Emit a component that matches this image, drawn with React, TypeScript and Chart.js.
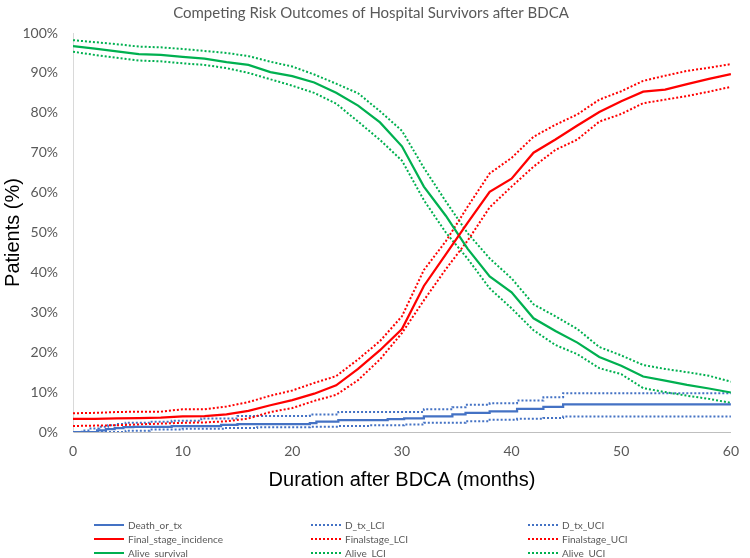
import React, { useEffect, useRef } from 'react';
import { Chart, registerables } from 'chart.js';

Chart.register(...registerables);

const titleText = 'Competing Risk Outcomes of Hospital Survivors after BDCA';
const xTitle = 'Duration after BDCA (months)';
const yTitle = 'Patients (%)';

// Smooth-looking cumulative curves, sampled every 2 months
const months = [0, 2, 4, 6, 8, 10, 12, 14, 16, 18, 20, 22, 24, 26, 28, 30, 32, 34, 36, 38, 40, 42, 44, 46, 48, 50, 52, 54, 56, 58, 60];

const finalStage = [3.3, 3.3, 3.4, 3.5, 3.6, 3.9, 4.0, 4.4, 5.3, 6.7, 8.0, 9.6, 11.7, 15.8, 20.5, 25.8, 36.6, 44.5, 52.5, 60.2, 63.5, 70.0, 73.3, 76.8, 80.2, 82.9, 85.3, 85.8, 87.2, 88.5, 89.7];
const finalLCI = [1.5, 1.6, 1.7, 1.9, 2.1, 2.3, 2.4, 2.7, 3.4, 5.0, 6.0, 7.8, 9.3, 13.0, 18.2, 24.8, 33.0, 40.8, 48.0, 56.3, 61.5, 66.5, 70.7, 73.3, 77.8, 79.7, 82.4, 83.3, 84.2, 85.3, 86.5];
const finalUCI = [4.7, 4.8, 5.0, 5.1, 5.1, 5.7, 5.7, 6.4, 7.5, 9.1, 10.4, 12.3, 14.0, 18.2, 22.8, 29.0, 40.6, 47.8, 56.5, 64.8, 68.7, 74.0, 77.0, 79.6, 83.3, 85.4, 88.0, 89.3, 90.5, 91.3, 92.2];

const alive = [96.7, 96.1, 95.4, 94.7, 94.5, 94.0, 93.6, 92.7, 92.0, 90.2, 89.2, 87.6, 85.0, 81.8, 77.6, 71.6, 61.5, 54.2, 45.9, 39.0, 35.0, 28.5, 25.3, 22.4, 18.8, 16.6, 13.9, 12.9, 11.8, 10.9, 9.9];
const aliveLCI = [95.3, 94.5, 93.8, 93.1, 92.9, 92.4, 92.0, 91.2, 90.0, 88.4, 86.8, 85.0, 82.3, 77.8, 73.2, 68.0, 58.1, 50.0, 43.4, 36.0, 31.0, 25.5, 21.8, 19.5, 16.0, 14.5, 11.0, 10.0, 9.1, 8.3, 7.3];
const aliveUCI = [98.2, 97.7, 97.2, 96.6, 96.4, 96.0, 95.5, 95.0, 94.2, 92.8, 91.6, 89.6, 87.3, 84.9, 80.4, 75.5, 66.2, 57.8, 49.8, 43.5, 38.5, 32.0, 29.0, 25.8, 21.3, 19.2, 16.8, 15.8, 15.0, 14.1, 12.6];

// Step curves for death / transplant (time of each step, value after it)
const deathTimes = [0, 1.5, 2.2, 3.0, 3.8, 4.6, 5.5, 9, 13.5, 15, 21.6, 22.2, 24.2, 28.7, 30.2, 32, 34.6, 35.8, 38, 40.5, 42.9, 44.7, 60];
const deathOrTx = [0, 0, 0.4, 0.7, 1.0, 1.2, 1.3, 1.5, 1.8, 2.0, 2.2, 2.6, 3.0, 3.2, 3.4, 3.9, 4.4, 4.8, 5.2, 5.8, 6.3, 6.9, 6.9];

const dTxUCITimes = [0, 0.8, 1.6, 2.4, 3.2, 4.0, 4.8, 7, 9, 11.7, 15, 21.6, 24.2, 32, 34.6, 35.8, 38, 40.5, 42.9, 44.7, 60];
const dTxUCI = [0, 0.4, 0.9, 1.3, 1.7, 2.0, 2.3, 2.6, 2.8, 3.4, 4.0, 4.4, 5.0, 5.7, 6.2, 6.8, 7.2, 7.9, 8.7, 9.7, 9.7];

const dTxLCITimes = [0, 3, 4.8, 7, 10, 13.8, 16.8, 21.6, 24.2, 27, 30.2, 32, 35.8, 38, 40.5, 42.9, 44.7, 60];
const dTxLCI = [0, 0, 0.3, 0.6, 0.8, 1.0, 1.2, 1.3, 1.5, 1.7, 1.9, 2.3, 2.7, 3.1, 3.3, 3.5, 3.9, 3.9];

const xTicks = [0, 10, 20, 30, 40, 50, 60];

const BLUE = '#4472C4';
const RED = '#FF0000';
const GREEN = '#00B050';

type Series = { label: string; times: number[]; values: number[]; color: string; dotted: boolean; stepped: boolean };

const seriesList: Series[] = [
  { label: 'Death_or_tx', times: deathTimes, values: deathOrTx, color: BLUE, dotted: false, stepped: true },
  { label: 'Final_stage_incidence', times: months, values: finalStage, color: RED, dotted: false, stepped: false },
  { label: 'Alive_survival', times: months, values: alive, color: GREEN, dotted: false, stepped: false },
  { label: 'D_tx_LCI', times: dTxLCITimes, values: dTxLCI, color: BLUE, dotted: true, stepped: true },
  { label: 'Finalstage_LCI', times: months, values: finalLCI, color: RED, dotted: true, stepped: false },
  { label: 'Alive_LCI', times: months, values: aliveLCI, color: GREEN, dotted: true, stepped: false },
  { label: 'D_tx_UCI', times: dTxUCITimes, values: dTxUCI, color: BLUE, dotted: true, stepped: true },
  { label: 'Finalstage_UCI', times: months, values: finalUCI, color: RED, dotted: true, stepped: false },
  { label: 'Alive_UCI', times: months, values: aliveUCI, color: GREEN, dotted: true, stepped: false },
];

const legendOrder = [
  ['Death_or_tx', 'D_tx_LCI', 'D_tx_UCI'],
  ['Final_stage_incidence', 'Finalstage_LCI', 'Finalstage_UCI'],
  ['Alive_survival', 'Alive_LCI', 'Alive_UCI'],
];
const legendCols = [94, 311, 528];
const legendRows = [525, 539, 553];

export default function App() {
  const ref = useRef<HTMLCanvasElement | null>(null);

  useEffect(() => {
    if (!ref.current) return;
    const chart = new Chart(ref.current, {
      type: 'line',
      data: {
        datasets: seriesList.map((s) => ({
          label: s.label,
          data: s.times.map((t, i) => ({ x: t, y: s.values[i] })),
          borderColor: s.color,
          backgroundColor: s.color,
          borderWidth: s.dotted ? 2 : 2.25,
          borderDash: s.dotted ? [2, 2] : [],
          pointRadius: 0,
          tension: 0,
          stepped: s.stepped ? 'before' : false,
          fill: false,
        })),
      },
      options: {
        responsive: false,
        animation: false,
        layout: { padding: { left: 0, right: 8, top: 0, bottom: 66 } },
        plugins: {
          legend: { display: false },
          tooltip: { enabled: false },
          title: {
            display: true,
            text: titleText,
            color: '#595959',
            font: { family: 'Lato', size: 15, weight: 'normal' },
            padding: { top: 4, bottom: 11 },
          },
        },
        scales: {
          x: {
            type: 'linear',
            min: 0,
            max: 60,
            afterFit: (scale: any) => {
              scale.height = 60;
            },
            afterBuildTicks: (scale: any) => {
              scale.ticks = xTicks.map((v) => ({ value: v }));
            },
            grid: { display: false, drawTicks: false },
            border: { display: true, color: '#BFBFBF', width: 1 },
            ticks: {
              color: '#595959',
              font: { family: 'Lato', size: 14 },
              padding: 11,
              maxRotation: 0,
            },
            title: {
              display: true,
              text: xTitle,
              color: '#000000',
              font: { family: 'Liberation Sans', size: 20 },
              padding: { top: 0, bottom: 0 },
            },
          },
          y: {
            type: 'linear',
            min: 0,
            max: 100,
            afterFit: (scale: any) => {
              scale.width = 73;
            },
            grid: { display: false, drawTicks: false },
            border: { display: true, color: '#D9D9D9', width: 1 },
            ticks: {
              stepSize: 10,
              color: '#595959',
              font: { family: 'Lato', size: 14 },
              padding: 15,
              callback: (v: any) => `${v}%`,
            },
            title: {
              display: true,
              text: yTitle,
              color: '#000000',
              font: { family: 'Liberation Sans', size: 20 },
              padding: { top: 1, bottom: 0 },
            },
          },
        },
      },
    });
    return () => chart.destroy();
  }, []);

  return (
    <div style={{ position: 'absolute', left: 0, top: 0, width: 750, height: 558, background: '#fff', overflow: 'hidden' }}>
      <canvas ref={ref} width={750} height={558} style={{ display: 'block' }} />
      {legendOrder.map((row, r) =>
        row.map((name, c) => {
          const s = seriesList.find((q) => q.label === name)!;
          return (
            <div
              key={name}
              style={{
                position: 'absolute',
                left: legendCols[c],
                top: legendRows[r] - 7,
                height: 14,
                display: 'flex',
                alignItems: 'center',
                fontFamily: 'Lato',
                fontSize: 10,
                color: '#595959',
                whiteSpace: 'nowrap',
              }}
            >
              <span
                style={{
                  display: 'inline-block',
                  width: 30,
                  height: s.dotted ? 2 : 2.5,
                  marginRight: 4,
                  background: s.dotted
                    ? `repeating-linear-gradient(90deg, ${s.color} 0 2px, transparent 2px 4px)`
                    : s.color,
                }}
              />
              {name}
            </div>
          );
        })
      )}
    </div>
  );
}
